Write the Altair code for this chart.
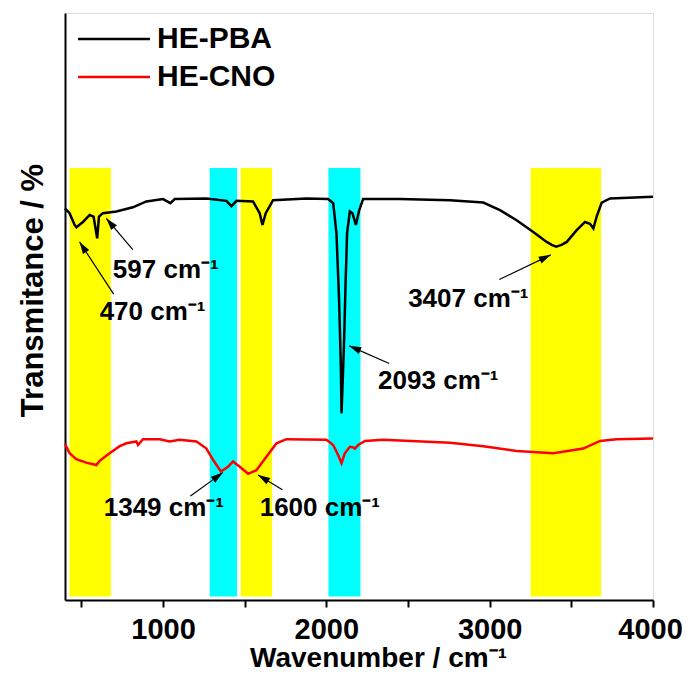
import math
import altair as alt
import pandas as pd

# ---------------- data ----------------
series_names = ["HE-PBA", "HE-CNO"]
series_colors = ["#000000", "#FF0000"]

wn_pba = [400, 428, 459, 470, 510, 551, 575, 597, 608, 632,
          714, 816, 898, 1000, 1045, 1072, 1266, 1388, 1419, 1450,
          1551, 1592, 1609, 1629, 1674, 1879, 2011, 2042, 2062, 2078,
          2089, 2093, 2107, 2118, 2127, 2144, 2160, 2181, 2201, 2225,
          2450, 2757, 2961, 3063, 3165, 3267, 3349, 3380, 3407, 3440,
          3472, 3533, 3584, 3614, 3635, 3655, 3686, 3737, 4000]
t_pba = [66.7, 65.9, 63.9, 63.5, 64.4, 65.6, 65.3, 61.6, 65.3, 65.9,
         66.2, 66.9, 67.9, 68.3, 67.6, 68.3, 68.4, 68.0, 67.1, 68.0,
         67.9, 65.9, 63.9, 65.9, 68.1, 68.4, 68.3, 67.6, 62.5, 51.1,
         39.7, 31.8, 42.6, 54.0, 62.5, 66.2, 65.9, 63.9, 66.4, 68.3,
         68.3, 68.1, 67.7, 66.4, 64.7, 62.7, 61.0, 60.5, 60.2, 60.5,
         61.0, 63.0, 64.4, 64.1, 63.3, 65.3, 67.7, 68.4, 68.7]

wn_cno = [400, 428, 469, 530, 592, 612, 673, 735, 776, 837,
          847, 877, 980, 1041, 1102, 1205, 1266, 1306, 1355, 1398,
          1429, 1470, 1521, 1572, 1633, 1695, 1756, 2001, 2042, 2072,
          2093, 2113, 2144, 2164, 2175, 2195, 2236, 2348, 2757, 2961,
          3165, 3390, 3573, 3676, 3778, 4000]
t_cno = [26.6, 25.0, 24.0, 23.4, 23.0, 23.7, 25.0, 26.2, 26.7, 27.0,
         26.4, 27.4, 27.4, 27.0, 27.3, 27.0, 25.8, 23.9, 21.9, 22.7,
         23.6, 22.7, 21.5, 22.1, 24.4, 26.7, 27.4, 27.3, 26.4, 24.7,
         23.3, 25.0, 26.1, 26.0, 25.8, 26.4, 27.1, 27.3, 26.8, 26.2,
         25.4, 25.0, 25.8, 27.1, 27.4, 27.5]

band_start = [428, 1286, 1476, 2013, 3251]
band_end = [681, 1453, 1668, 2209, 3682]
band_color = ["#FFFF00", "#00FFFF", "#FFFF00", "#00FFFF", "#FFFF00"]
band_low = [0.6] * 5
band_high = [73.6] * 5

ann_text = ["470 cm⁻¹", "597 cm⁻¹", "1349 cm⁻¹", "1600 cm⁻¹", "2093 cm⁻¹", "3407 cm⁻¹"]
ann_x = [612, 693, 637, 1592, 2317, 2501]
ann_y = [49.1, 56.2, 15.6, 15.6, 37.3, 51.3]

arrow_tail_x = [698, 815, 1168, 1731, 2385, 3059]
arrow_tail_y = [52.1, 59.7, 17.7, 18.8, 40.3, 54.6]
arrow_head_x = [489, 653, 1366, 1582, 2140, 3374]
arrow_head_y = [61.0, 65.0, 21.7, 21.3, 43.3, 58.8]

x_ticks = [500, 1000, 1500, 2000, 2500, 3000, 3500, 4000]

# ---------------- layout ----------------
W, H = 588, 587
X_DOM = [400, 4000]
Y_DOM = [0, 100]
FONT = "Liberation Sans"

lines_df = pd.concat([
    pd.DataFrame({"wn": wn_pba, "t": t_pba, "series": series_names[0]}),
    pd.DataFrame({"wn": wn_cno, "t": t_cno, "series": series_names[1]}),
])
bands_df = pd.DataFrame({"x0": band_start, "x1": band_end, "y0": band_low,
                         "y1": band_high, "c": band_color})
ann_df = pd.DataFrame({"x": ann_x, "y": ann_y, "label": ann_text})

# arrowhead: slender filled triangle, tip at head point
HEAD_PATH = "M0,-1.2L0.62,0.8L-0.62,0.8Z"
HEAD_SIZE = 144          # sqrt(size)/2 = 6 px per path unit
TIP_OFFSET = 1.2 * math.sqrt(HEAD_SIZE) / 2

sx = W / (X_DOM[1] - X_DOM[0])
sy = H / (Y_DOM[1] - Y_DOM[0])
rows = []
for tx, ty, hx, hy in zip(arrow_tail_x, arrow_tail_y, arrow_head_x, arrow_head_y):
    dx = (hx - tx) * sx
    dy = -(hy - ty) * sy
    L = math.hypot(dx, dy)
    ang = math.degrees(math.atan2(dx, -dy)) % 360
    px = hx - TIP_OFFSET * dx / L / sx
    py = hy + TIP_OFFSET * dy / L / sy
    rows.append({"tx": tx, "ty": ty, "hx": hx, "hy": hy, "px": px, "py": py, "ang": ang})
arrows_df = pd.DataFrame(rows)

xs = alt.Scale(domain=X_DOM, nice=False, zero=False)
ys = alt.Scale(domain=Y_DOM, nice=False, zero=False)

x_axis = alt.Axis(
    title="Wavenumber / cm⁻¹", values=x_ticks,
    labelExpr="datum.value % 1000 === 0 ? format(datum.value, 'd') : ''",
    grid=False, tickSize=7, tickWidth=2, tickColor="black",
    domainColor="black", domainWidth=2,
    labelFont=FONT, labelFontSize=29, labelFontWeight="bold", labelColor="black",
    labelPadding=8, labelFlush=False, labelOverlap=False,
    labelOffset={"condition": {"test": "datum.value === 4000", "value": -3}, "value": 0},
    titleFont=FONT, titleFontSize=28, titleFontWeight="bold", titleColor="black",
    titleX=313, titleY=66, titleBaseline="alphabetic",
)
y_axis = alt.Axis(
    title="Transmitance / %", labels=False, ticks=False, grid=False,
    domainColor="black", domainWidth=2,
    titleFont=FONT, titleFontSize=31, titleFontWeight="bold", titleColor="black",
    titlePadding=16, titleY=277,
)

bands = alt.Chart(bands_df).mark_rect().encode(
    x=alt.X("x0:Q", scale=xs, axis=x_axis),
    x2="x1:Q",
    y=alt.Y("y0:Q", scale=ys, axis=y_axis),
    y2="y1:Q",
    fill=alt.Fill("c:N", scale=None),
)

lines = alt.Chart(lines_df).mark_line(strokeWidth=2.5).encode(
    x=alt.X("wn:Q", scale=xs),
    y=alt.Y("t:Q", scale=ys),
    color=alt.Color(
        "series:N",
        scale=alt.Scale(domain=series_names, range=series_colors),
        legend=alt.Legend(
            title=None, orient="none", legendX=31, legendY=8,
            symbolType="M-2.18,0H2.18", symbolSize=1089, symbolStrokeWidth=2.5,
            labelFont=FONT, labelFontSize=30, labelFontWeight="bold",
            labelColor="black", labelOffset=25, rowPadding=5, labelLimit=400,
        ),
    ),
    order="wn:Q",
)

arrow_lines = alt.Chart(arrows_df).mark_rule(color="black", strokeWidth=1.2).encode(
    x=alt.X("tx:Q", scale=xs), y=alt.Y("ty:Q", scale=ys),
    x2="hx:Q", y2="hy:Q",
)
arrow_heads = alt.Chart(arrows_df).mark_point(
    shape=HEAD_PATH, filled=True, color="black", size=HEAD_SIZE, opacity=1
).encode(
    x=alt.X("px:Q", scale=xs), y=alt.Y("py:Q", scale=ys),
    angle=alt.Angle("ang:Q", scale=None),
)
labels = alt.Chart(ann_df).mark_text(
    align="left", baseline="middle", font=FONT, fontSize=26, fontWeight="bold",
    color="black",
).encode(
    x=alt.X("x:Q", scale=xs), y=alt.Y("y:Q", scale=ys), text="label:N",
)

chart = alt.layer(bands, lines, arrow_lines, arrow_heads, labels).properties(
    width=W, height=H,
    autosize=alt.AutoSizeParams(type="none"),
    padding={"left": 57, "top": 5, "right": 30, "bottom": 72},
).configure_view(stroke="black", strokeWidth=2).configure(background="white")

chart.save("out.html", embed_options={"renderer": "svg", "actions": False})
